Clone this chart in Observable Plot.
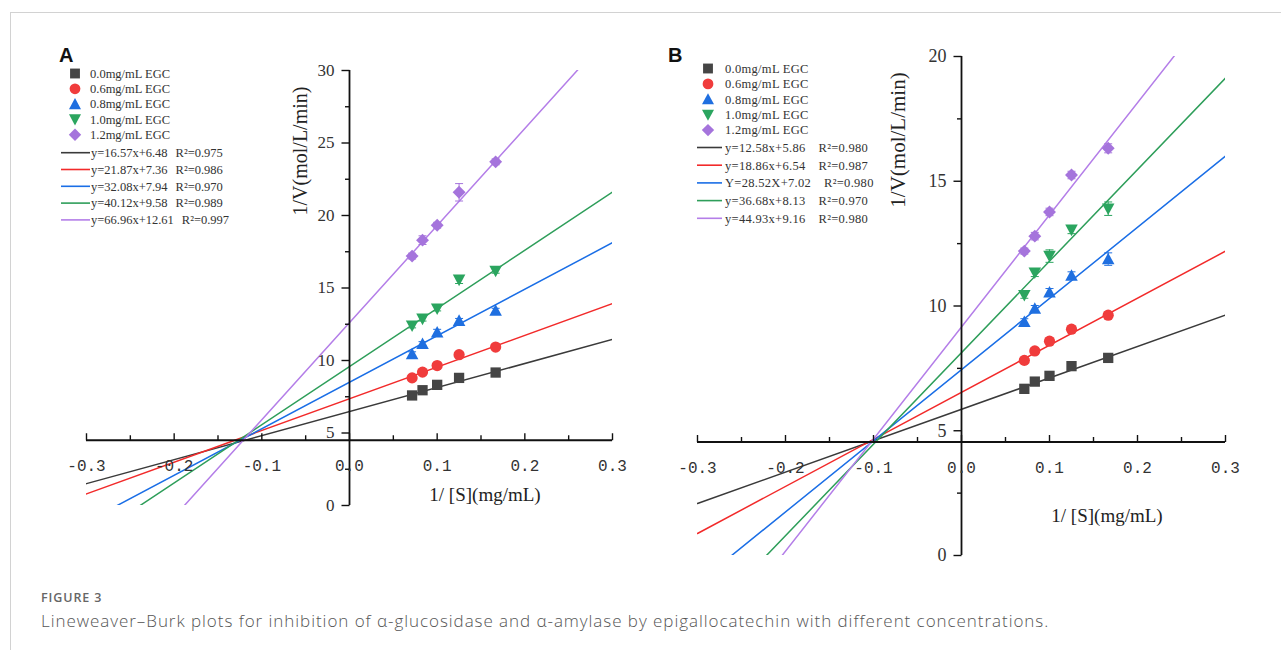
<!DOCTYPE html>
<html>
<head>
<meta charset="utf-8">
<script src="https://cdn.jsdelivr.net/npm/d3@7"></script>
<script src="https://cdn.jsdelivr.net/npm/@observablehq/plot@0.6"></script>
<style>
  html, body { margin: 0; padding: 0; background: #fff; }
  #root { position: relative; width: 1281px; height: 650px; overflow: hidden; background: #fff; }
  #border { position: absolute; left: 10px; top: 12px; right: -2px; bottom: -2px; border-left: 1px solid #d2d2d2; border-top: 1px solid #d2d2d2; }
  #root svg { position: absolute; }
  .cap1 { position: absolute; left: 41px; top: 589px; font: 600 12.5px "Open Sans", sans-serif; color: #666; letter-spacing: 0.9px; }
  .cap2 { position: absolute; left: 41px; top: 609px; font: 300 17px "Open Sans", sans-serif; color: #555; white-space: nowrap; letter-spacing: 0.95px; }
</style>
</head>
<body>
<div id="root"><div id="border"></div>
<div class="cap1">FIGURE 3</div>
<div class="cap2">Lineweaver–Burk plots for inhibition of α-glucosidase and α-amylase by epigallocatechin with different concentrations.</div>
</div>
<script>
// ---------------- data ----------------
const invS = [0.0714, 0.0833, 0.1, 0.125, 0.1667];          // 1/[S]
const concLabels = ["0.0mg/mL EGC", "0.6mg/mL EGC", "0.8mg/mL EGC", "1.0mg/mL EGC", "1.2mg/mL EGC"];

// Panel A (alpha-glucosidase) 1/V
const a00 = [7.59, 7.95, 8.32, 8.80, 9.17];
const a06 = [8.80, 9.20, 9.65, 10.40, 10.93];
const a08 = [10.45, 11.15, 11.95, 12.75, 13.45];
const a10 = [12.40, 12.87, 13.57, 15.56, 16.17];
const a12 = [17.20, 18.30, 19.33, 21.60, 23.70];
const aErr00 = [0.15, 0.15, 0.15, 0.15, 0.15];
const aErr06 = [0.15, 0.15, 0.15, 0.2, 0.15];
const aErr08 = [0.15, 0.15, 0.2, 0.15, 0.15];
const aErr10 = [0.15, 0.15, 0.15, 0.25, 0.15];
const aErr12 = [0.2, 0.3, 0.2, 0.6, 0.2];
const aSlope = [16.57, 21.87, 32.08, 40.12, 66.96];        // drawn fit lines
const aIntercept = [6.48, 7.36, 8.50, 9.58, 12.61];
const aEq = ["y=16.57x+6.48", "y=21.87x+7.36", "y=32.08x+7.94", "y=40.12x+9.58", "y=66.96x+12.61"];
const aR2 = ["0.975", "0.986", "0.970", "0.989", "0.997"];

// Panel B (alpha-amylase) 1/V
const b00 = [6.68, 6.97, 7.20, 7.59, 7.92];
const b06 = [7.82, 8.20, 8.59, 9.07, 9.63];
const b08 = [9.37, 9.90, 10.55, 11.22, 11.88];
const b10 = [10.43, 11.33, 12.00, 13.05, 13.90];
const b12 = [12.20, 12.80, 13.77, 15.25, 16.32];
const bErr00 = [0.12, 0.12, 0.12, 0.12, 0.12];
const bErr06 = [0.12, 0.12, 0.12, 0.12, 0.12];
const bErr08 = [0.12, 0.12, 0.15, 0.15, 0.25];
const bErr10 = [0.12, 0.15, 0.25, 0.15, 0.27];
const bErr12 = [0.12, 0.15, 0.15, 0.15, 0.18];
const bSlope = [12.58, 18.86, 28.52, 36.68, 44.93];
const bIntercept = [5.86, 6.54, 7.45, 8.13, 9.16];
const bEq = ["y=12.58x+5.86", "y=18.86x+6.54", "Y=28.52X+7.02", "y=36.68x+8.13", "y=44.93x+9.16"];
const bR2 = ["0.980", "0.987", "0.980", "0.970", "0.980"];

// axes
const xDomain = [-0.3, 0.3];
const xTickMajor = [-0.3, -0.2, -0.1, 0, 0.1, 0.2, 0.3];
const xTickMinor = [-0.25, -0.15, -0.05, 0.05, 0.15, 0.25];
const xTickLabels = ["-0.3", "-0.2", "-0.1", "0.0", "0.1", "0.2", "0.3"];
const aYTicks = [0, 5, 10, 15, 20, 25, 30];
const aYMinor = [2.5, 7.5, 12.5, 17.5, 22.5, 27.5];
const bYTicks = [0, 5, 10, 15, 20];
const bYMinor = [2.5, 7.5, 12.5, 17.5];

// ---------------- styles ----------------
const pointColors = ["#454545", "#f03c3c", "#1f6fe0", "#2ba55f", "#a574dc"];
const lineColors = ["#3a3a3a", "#f22a2a", "#1a6ee6", "#2e9e5a", "#b47ee8"];
function poly(c, pts) { c.moveTo(pts[0][0], pts[0][1]); for (let i = 1; i < pts.length; i++) c.lineTo(pts[i][0], pts[i][1]); c.closePath(); }
const shapes = [
  {draw(c, s) { const h = Math.sqrt(s / Math.PI) * 0.78; poly(c, [[-h,-h],[h,-h],[h,h],[-h,h]]); }},
  {draw(c, s) { const h = Math.sqrt(s / Math.PI) * 0.85; c.moveTo(h, 0); c.arc(0, 0, h, 0, 2 * Math.PI); c.closePath(); }},
  {draw(c, s) { const h = Math.sqrt(s / Math.PI); poly(c, [[0,-0.95*h],[0.95*h,0.8*h],[-0.95*h,0.8*h]]); }},
  {draw(c, s) { const h = Math.sqrt(s / Math.PI); poly(c, [[0,0.95*h],[0.95*h,-0.8*h],[-0.95*h,-0.8*h]]); }},
  {draw(c, s) { const h = Math.sqrt(s / Math.PI) * 0.98; poly(c, [[0,-h],[h,0],[0,h],[-h,0]]); }}
];

const root = document.getElementById("root");

function drawPanel(p) {
  const fw = p.width - p.ml - p.mr, fh = p.height - p.mt - p.mb;
  const pxX = fw / (xDomain[1] - xDomain[0]), pxY = fh / p.ymax;
  const ax = "#111";
  const marks = [];
  p.slope.forEach((m, s) => {
    const pts = xDomain.map(x => ({x, y: m * x + p.icpt[s]}));
    marks.push(Plot.line(pts, {x: "x", y: "y", stroke: lineColors[s], strokeWidth: 1.5, clip: true}));
  });
  marks.push(Plot.ruleY([p.axisAt], {y: d => d, x1: () => xDomain[0], x2: () => xDomain[1], stroke: ax, strokeWidth: 1.8}));
  marks.push(Plot.ruleX([0], {x: d => d, y1: () => 0, y2: () => p.ymax, stroke: ax, strokeWidth: 1.8}));
  marks.push(Plot.link(xTickMajor, {x1: d => d, x2: d => d, y1: () => p.axisAt, y2: () => p.axisAt + 7 / pxY, stroke: ax, strokeWidth: 1.4}));
  marks.push(Plot.link(xTickMinor, {x1: d => d, x2: d => d, y1: () => p.axisAt, y2: () => p.axisAt + 5 / pxY, stroke: ax, strokeWidth: 1.4}));
  marks.push(Plot.link(p.yTicks, {y1: d => d, y2: d => d, x1: () => 0, x2: () => -8 / pxX, stroke: ax, strokeWidth: 1.4}));
  marks.push(Plot.link(p.yMinor, {y1: d => d, y2: d => d, x1: () => 0, x2: () => -4.5 / pxX, stroke: ax, strokeWidth: 1.4}));
  marks.push(Plot.text(xTickMajor, {x: d => d, y: () => p.axisAt, text: (d, i) => xTickLabels[i], dy: 26,
    fontFamily: "Liberation Mono", fontSize: 16, fill: "#333"}));
  marks.push(Plot.text(p.yTicks, {x: () => 0, y: d => d, text: d => String(d), dx: -15, textAnchor: "end",
    fontFamily: "Liberation Serif", fontSize: p.yFont, fill: "#333"}));
  p.values.forEach((vals, s) => {
    const rows = vals.map((v, i) => ({x: invS[i], y: v, e: p.err[s][i]}));
    const c = pointColors[s];
    marks.push(Plot.ruleX(rows, {x: "x", y1: d => d.y - d.e, y2: d => d.y + d.e, stroke: c, strokeWidth: 1}));
    marks.push(Plot.link(rows, {x1: d => d.x - 4 / pxX, x2: d => d.x + 4 / pxX, y1: d => d.y + d.e, y2: d => d.y + d.e, stroke: c, strokeWidth: 1}));
    marks.push(Plot.link(rows, {x1: d => d.x - 4 / pxX, x2: d => d.x + 4 / pxX, y1: d => d.y - d.e, y2: d => d.y - d.e, stroke: c, strokeWidth: 1}));
    marks.push(Plot.dot(rows, {x: "x", y: "y", r: 6.6, symbol: shapes[s], fill: c, stroke: "none"}));
  });
  const svg = Plot.plot({
    width: p.width, height: p.height,
    marginLeft: p.ml, marginRight: p.mr, marginTop: p.mt, marginBottom: p.mb,
    x: {domain: xDomain, axis: null},
    y: {domain: [0, p.ymax], axis: null},
    style: {background: "transparent", overflow: "visible"},
    marks
  });
  svg.style.left = p.left + "px";
  svg.style.top = p.top + "px";
  root.appendChild(svg);
}

drawPanel({left: 0, top: 0, width: 640, height: 560, ml: 86, mr: 28, mt: 70, mb: 55,
  ymax: 30, yTicks: aYTicks, yMinor: aYMinor, axisAt: 4.5, yFont: 17,
  values: [a00, a06, a08, a10, a12], err: [aErr00, aErr06, aErr08, aErr10, aErr12],
  slope: aSlope, icpt: aIntercept});
drawPanel({left: 640, top: 0, width: 641, height: 600, ml: 57, mr: 56, mt: 56, mb: 45,
  ymax: 20, yTicks: bYTicks, yMinor: bYMinor, axisAt: 4.55, yFont: 18,
  values: [b00, b06, b08, b10, b12], err: [bErr00, bErr06, bErr08, bErr10, bErr12],
  slope: bSlope, icpt: bIntercept});

// ---------------- overlay: legends, titles ----------------
const ov = d3.create("svg").attr("width", 1281).attr("height", 650).style("left", "0px").style("top", "0px")
  .style("pointer-events", "none");
function legend(o) {
  const g = ov.append("g").attr("font-family", "Liberation Serif").attr("font-size", o.fontSize).attr("fill", "#333")
    .attr("letter-spacing", o.ls);
  concLabels.forEach((t, i) => {
    const y = o.my0 + i * o.mdy;
    g.append("path").attr("transform", `translate(${o.mx},${y})`).attr("d", d3.symbol(shapes[i], 40 * Math.PI)()).attr("fill", pointColors[i]);
    g.append("text").attr("x", o.tx).attr("y", y).attr("dy", "0.35em").text(t);
  });
  o.eq.forEach((t, i) => {
    const y = o.ly0 + i * o.ldy;
    g.append("line").attr("x1", o.lx1).attr("x2", o.lx2).attr("y1", y).attr("y2", y).attr("stroke", lineColors[i]).attr("stroke-width", 1.6);
    const tx = g.append("text").attr("x", o.tx2).attr("y", y).attr("dy", "0.35em");
    tx.append("tspan").text(t);
    tx.append("tspan").attr("dx", o.gap).text("R²=" + o.r2[i]);
  });
}
legend({mx: 75, my0: 73.5, mdy: 15.3, tx: 90, ly0: 152.7, ldy: 16.8, lx1: 61, lx2: 90, tx2: 91, gap: 8,
  fontSize: 12.5, ls: 0, eq: aEq, r2: aR2});
legend({mx: 708, my0: 68.5, mdy: 15.4, tx: 725, ly0: 147.5, ldy: 17.7, lx1: 697, lx2: 722, tx2: 725, gap: 13,
  fontSize: 12.5, ls: 0.3, eq: bEq, r2: bR2});

ov.append("text").attr("x", 59).attr("y", 61.5).attr("font-family", "Liberation Sans").attr("font-weight", "bold")
  .attr("font-size", 20).attr("fill", "#111").text("A");
ov.append("text").attr("x", 668).attr("y", 61.5).attr("font-family", "Liberation Sans").attr("font-weight", "bold")
  .attr("font-size", 20).attr("fill", "#111").text("B");

function ytitle(x, y, size) {
  ov.append("text").attr("transform", `translate(${x},${y}) rotate(-90)`).attr("text-anchor", "middle").attr("dy", "0.35em")
    .attr("font-family", "Liberation Serif").attr("font-size", size).attr("fill", "#222").text("1/V(mol/L/min)");
}
function xtitle(x, y, size) {
  ov.append("text").attr("x", x).attr("y", y).attr("text-anchor", "middle").attr("dy", "0.35em")
    .attr("font-family", "Liberation Serif").attr("font-size", size).attr("fill", "#222").text("1/ [S](mg/mL)");
}
ytitle(300, 151, 20);
ytitle(898, 140, 21);
xtitle(485, 494, 19);
xtitle(1107, 515, 19);

root.appendChild(ov.node());
</script>
</body>
</html>
